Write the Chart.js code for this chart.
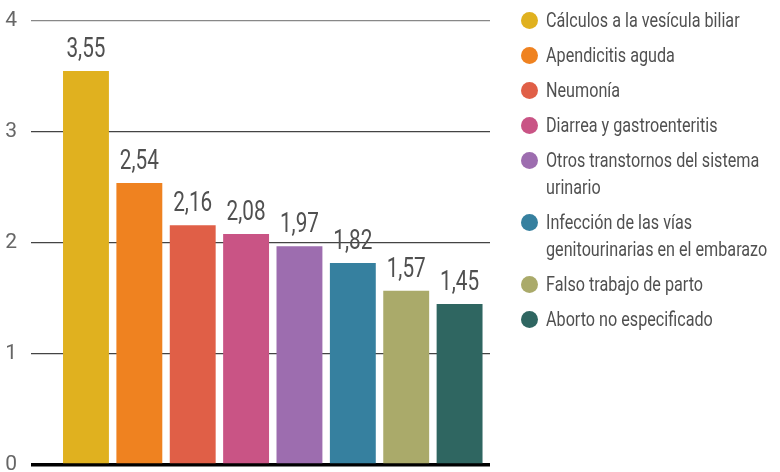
<!DOCTYPE html>
<html>
<head>
<meta charset="utf-8">
<script src="https://cdn.jsdelivr.net/npm/chart.js@4/dist/chart.umd.min.js"></script>
<style>
  html, body { margin: 0; padding: 0; background: #fff; }
  #wrap { position: relative; width: 780px; height: 472px; }
  #legend { position: absolute; left: 520px; top: 7px; margin: 0; padding: 0; list-style: none;
    font-family: Roboto, "Liberation Sans", sans-serif; font-size: 21px; color: #505050; }
  #legend li { position: relative; padding-left: 26px; height: auto; margin-bottom: 8px; }
  #legend .dot { position: absolute; left: 1px; top: 5px; width: 17px; height: 17px; border-radius: 50%; }
  #legend .txt { display: block; width: 307px; line-height: 27px; transform: scaleX(0.77); transform-origin: 0 0; white-space: normal; }
</style>
</head>
<body>
<div id="wrap">
  <canvas id="c" width="780" height="472"></canvas>
  <ul id="legend"></ul>
</div>
<script>
const categories = [
  "Cálculos a la vesícula biliar",
  "Apendicitis aguda",
  "Neumonía",
  "Diarrea y gastroenteritis",
  "Otros transtornos del sistema urinario",
  "Infección de las vías genitourinarias en el embarazo",
  "Falso trabajo de parto",
  "Aborto no especificado"
];
const values = [3.55, 2.54, 2.16, 2.08, 1.97, 1.82, 1.57, 1.45];
const colors = ["#E0B11F", "#EF8220", "#E05F47", "#C95485", "#9D6DAF", "#36809F", "#AAAA6A", "#2F6661"];
const yTicks = [0, 1, 2, 3, 4];

const FONT = 'Roboto, "Liberation Sans", sans-serif';

const valueLabels = {
  id: 'valueLabels',
  afterDatasetsDraw(chart) {
    const ctx = chart.ctx;
    const meta = chart.getDatasetMeta(0);
    meta.data.forEach((bar, i) => {
      ctx.save();
      ctx.font = '28px ' + FONT;
      ctx.fillStyle = '#505050';
      ctx.textAlign = 'center';
      ctx.textBaseline = 'alphabetic';
      ctx.translate(bar.x, bar.y - 14);
      ctx.scale(0.74, 1);
      ctx.fillText(values[i].toFixed(2).replace('.', ','), 0, 0);
      ctx.restore();
    });
  }
};

new Chart(document.getElementById('c'), {
  type: 'bar',
  data: {
    datasets: [{
      data: values.map((v, i) => ({ x: i, y: v })),
      backgroundColor: colors,
      borderWidth: 0,
      categoryPercentage: 1,
      barPercentage: 0.86
    }]
  },
  options: {
    responsive: false,
    animation: false,
    layout: { padding: { top: 21, right: 290, bottom: 7, left: 0 } },
    plugins: { legend: { display: false }, tooltip: { enabled: false } },
    scales: {
      x: {
        type: 'linear', offset: false, min: -1.03, max: 7.57, display: false
      },
      y: {
        min: 0, max: 4,
        afterFit(s) { s.width = 31; s.paddingTop = 0; s.paddingBottom = 0; },
        afterBuildTicks(s) { s.ticks = yTicks.map(v => ({ value: v })); },
        border: { display: false },
        grid: {
          drawTicks: false,
          color: ctx => ctx.tick.value === 0 ? '#000' : (ctx.tick.value === 4 ? '#888' : '#444'),
          lineWidth: ctx => ctx.tick.value === 0 ? 3.5 : 1.3
        },
        ticks: {
          padding: 14,
          color: '#666',
          font: { family: FONT, size: 21 },
          callback: v => String(v)
        }
      }
    }
  },
  plugins: [valueLabels]
});

const legend = document.getElementById('legend');
categories.forEach((c, i) => {
  const li = document.createElement('li');
  const dot = document.createElement('span');
  dot.className = 'dot';
  dot.style.background = colors[i];
  const txt = document.createElement('span');
  txt.className = 'txt';
  txt.textContent = c;
  li.appendChild(dot);
  li.appendChild(txt);
  legend.appendChild(li);
});
</script>
</body>
</html>
